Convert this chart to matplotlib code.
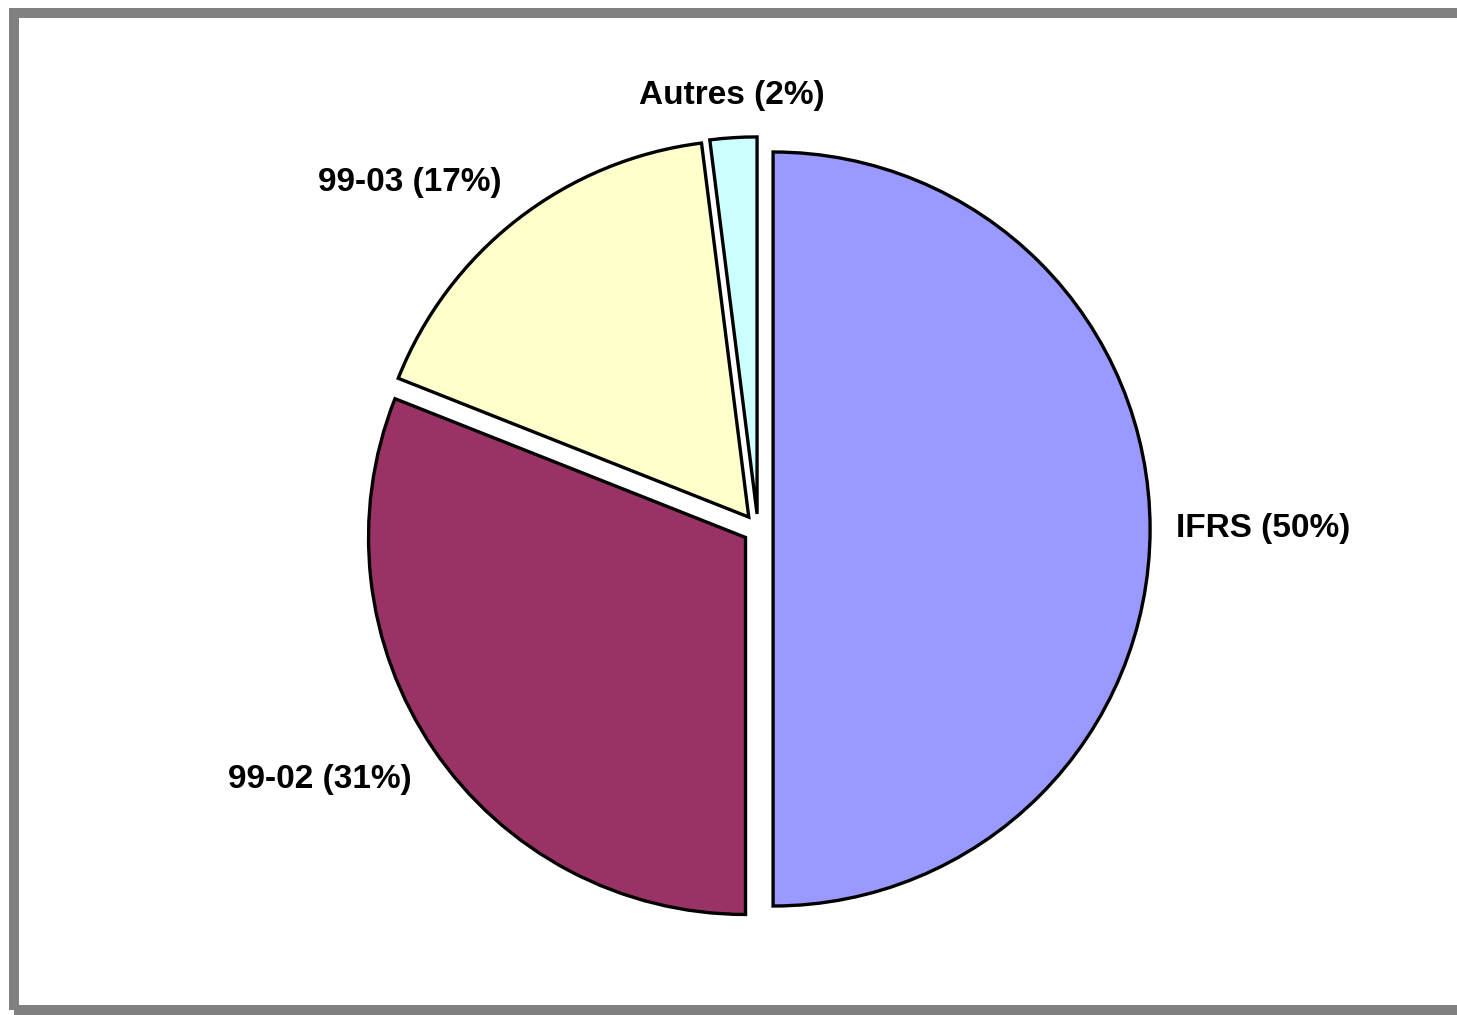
import numpy as np
import matplotlib
matplotlib.use("Agg")
import matplotlib.pyplot as plt
from matplotlib.patches import Rectangle

# === DATA ===
labels = ["IFRS", "99-02", "99-03", "Autres"]
shares = [50, 31, 17, 2]
colors = ["#9999FF", "#993366", "#FFFFCC", "#CCFFFF"]

plt.rcParams["font.family"] = ["Liberation Sans", "DejaVu Sans"]

W, H = 1457, 1015
fig = plt.figure(figsize=(W / 100, H / 100), dpi=100)
ax = fig.add_axes([0, 0, 1, 1])

cx, cy, r = 758, H - 529, 377
# matplotlib's explode is in data units, not a fraction of the radius
gap = 0.04 * r
wedges, _ = ax.pie(
    shares,
    colors=colors,
    startangle=90,
    counterclock=False,
    explode=[gap] * len(shares),
    center=(cx, cy),
    radius=r,
    wedgeprops={"edgecolor": "black", "linewidth": 2.4},
    frame=True,
)
ax.set_xlim(0, W)
ax.set_ylim(0, H)
ax.set_aspect("equal")
ax.axis("off")

# labels placed outside each wedge at its mid angle
for w, name, val in zip(wedges, labels, shares):
    mid = np.deg2rad((w.theta1 + w.theta2) / 2)
    c, s = np.cos(mid), np.sin(mid)
    x = cx + 1.11 * r * c
    y = cy + 1.11 * r * s
    ha = "center" if abs(c) < 0.2 else ("left" if c > 0 else "right")
    va = "center" if abs(s) < 0.2 else ("bottom" if s > 0 else "top")
    ax.text(x, y, f"{name} ({val}%)", ha=ha, va=va,
            fontsize=24, fontweight="bold", color="black")

# grey outer frame (right side runs off the picture)
ax.add_patch(Rectangle((14, H - 1009.5), 1480, 1009.5 - 13, fill=False,
                       edgecolor="#808080", linewidth=7.2, clip_on=False))

fig.savefig("out.png", dpi=100)
